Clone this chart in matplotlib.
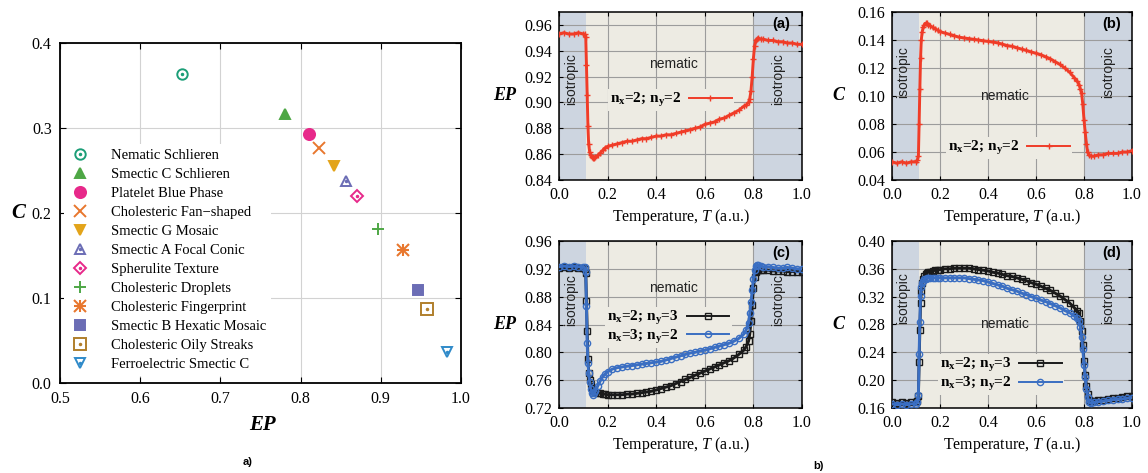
import matplotlib
matplotlib.use("Agg")
import matplotlib.pyplot as plt
from matplotlib.ticker import FormatStrFormatter

plt.rcParams['font.family'] = 'Liberation Serif'
plt.rcParams['mathtext.fontset'] = 'custom'
plt.rcParams['mathtext.rm'] = 'Liberation Serif'
plt.rcParams['mathtext.it'] = 'Liberation Serif:italic'
plt.rcParams['mathtext.bf'] = 'Liberation Serif:bold'

# ---------------- a) texture classification: entropy-complexity plane ----------------
texture_names = [
    "Nematic Schlieren", "Smectic C Schlieren", "Platelet Blue Phase",
    "Cholesteric Fan\u2212shaped", "Smectic G Mosaic", "Smectic A Focal Conic",
    "Spherulite Texture", "Cholesteric Droplets", "Cholesteric Fingerprint",
    "Smectic B Hexatic Mosaic", "Cholesteric Oily Streaks", "Ferroelectric Smectic C",
]
texture_ep = [0.652, 0.780, 0.811, 0.823, 0.842, 0.857, 0.870, 0.896, 0.928, 0.946, 0.957, 0.982]
texture_c = [0.364, 0.316, 0.293, 0.277, 0.255, 0.238, 0.220, 0.181, 0.157, 0.110, 0.087, 0.036]

# ---------------- b) order parameters vs temperature ----------------
temperature = [
    0.00, 0.02, 0.04, 0.06, 0.08, 0.10,
    0.105, 0.110, 0.113, 0.116, 0.119, 0.122, 0.126, 0.130, 0.135, 0.140, 0.145, 0.150,
    0.16, 0.17, 0.18, 0.19, 0.20,
    0.22, 0.24, 0.26, 0.28, 0.30, 0.32, 0.34, 0.36, 0.38, 0.40, 0.42, 0.44, 0.46, 0.48,
    0.50, 0.52, 0.54, 0.56, 0.58, 0.60, 0.62, 0.64, 0.66, 0.68, 0.70, 0.72, 0.74, 0.76,
    0.77, 0.78, 0.785, 0.79, 0.795, 0.80, 0.805, 0.81, 0.815, 0.82,
    0.83, 0.84,
    0.86, 0.88, 0.90, 0.92, 0.94, 0.96, 0.98, 1.00,
]

ep_2x2 = [
    0.953, 0.954, 0.953, 0.953, 0.954, 0.953,
    0.953, 0.951, 0.929, 0.906, 0.882, 0.868, 0.862, 0.859, 0.858, 0.857, 0.857, 0.858,
    0.859, 0.861, 0.863, 0.865, 0.866,
    0.867, 0.868, 0.869, 0.870, 0.870, 0.871, 0.872, 0.872, 0.873, 0.874, 0.874, 0.875, 0.875, 0.876,
    0.877, 0.878, 0.879, 0.880, 0.881, 0.883, 0.884, 0.885, 0.887, 0.888, 0.890, 0.892, 0.894, 0.897,
    0.898, 0.900, 0.903, 0.909, 0.920, 0.934, 0.944, 0.948, 0.949, 0.950,
    0.949, 0.949,
    0.948, 0.948, 0.947, 0.947, 0.946, 0.946, 0.945, 0.945,
]

c_2x2 = [
    0.053, 0.052, 0.053, 0.052, 0.053, 0.053,
    0.054, 0.057, 0.080, 0.105, 0.127, 0.140, 0.146, 0.149, 0.151, 0.152, 0.152, 0.151,
    0.150, 0.149, 0.148, 0.147, 0.146,
    0.145, 0.144, 0.143, 0.142, 0.1415, 0.141, 0.1405, 0.140, 0.1395, 0.139, 0.1385, 0.138, 0.137, 0.136,
    0.1355, 0.1345, 0.1335, 0.1325, 0.1315, 0.1305, 0.1295, 0.128, 0.1265, 0.1245, 0.1225, 0.120, 0.117, 0.113,
    0.111, 0.108, 0.105, 0.102, 0.094, 0.083, 0.074, 0.066, 0.060, 0.058,
    0.057, 0.057,
    0.058, 0.058, 0.059, 0.059, 0.059, 0.060, 0.060, 0.061,
]

ep_2x3 = [
    0.921, 0.922, 0.921, 0.922, 0.921, 0.921,
    0.920, 0.914, 0.874, 0.831, 0.791, 0.771, 0.760, 0.754, 0.749, 0.746, 0.744, 0.743,
    0.742, 0.741, 0.740, 0.740, 0.739,
    0.739, 0.739, 0.739, 0.740, 0.740, 0.741, 0.742, 0.743, 0.744, 0.746, 0.748, 0.750, 0.752, 0.755,
    0.758, 0.761, 0.764, 0.767, 0.770, 0.773, 0.776, 0.779, 0.782, 0.785, 0.788, 0.792, 0.797, 0.803,
    0.808, 0.816, 0.826, 0.845, 0.868, 0.892, 0.908, 0.916, 0.918, 0.918,
    0.918, 0.918,
    0.918, 0.917, 0.917, 0.917, 0.916, 0.916, 0.916, 0.916,
]

ep_3x2 = [
    0.923, 0.924, 0.923, 0.924, 0.923, 0.923,
    0.922, 0.916, 0.866, 0.814, 0.785, 0.770, 0.757, 0.748, 0.742, 0.739, 0.741, 0.745,
    0.752, 0.759, 0.765, 0.769, 0.772,
    0.776, 0.778, 0.779, 0.780, 0.781, 0.782, 0.783, 0.784, 0.785, 0.786, 0.787, 0.789, 0.791, 0.793,
    0.795, 0.797, 0.799, 0.800, 0.802, 0.803, 0.805, 0.807, 0.809, 0.811, 0.813, 0.816, 0.820, 0.826,
    0.832, 0.842, 0.856, 0.872, 0.889, 0.906, 0.918, 0.924, 0.925, 0.925,
    0.924, 0.923,
    0.923, 0.922, 0.921, 0.921, 0.922, 0.921, 0.920, 0.920,
]

c_2x3 = [
    0.168, 0.167, 0.168, 0.167, 0.168, 0.168,
    0.170, 0.177, 0.226, 0.272, 0.311, 0.328, 0.339, 0.346, 0.350, 0.353, 0.354, 0.355,
    0.356, 0.357, 0.358, 0.358, 0.359,
    0.360, 0.360, 0.361, 0.361, 0.361, 0.361, 0.360, 0.359, 0.358, 0.357, 0.355, 0.354, 0.352, 0.350,
    0.349, 0.347, 0.345, 0.343, 0.340, 0.338, 0.335, 0.332, 0.329, 0.325, 0.321, 0.316, 0.311, 0.304,
    0.300, 0.296, 0.285, 0.270, 0.250, 0.228, 0.208, 0.192, 0.180, 0.172,
    0.170, 0.170,
    0.171, 0.172, 0.173, 0.174, 0.175, 0.176, 0.177, 0.177,
]

c_3x2 = [
    0.166, 0.165, 0.166, 0.165, 0.166, 0.166,
    0.168, 0.178, 0.237, 0.284, 0.321, 0.334, 0.340, 0.343, 0.345, 0.346, 0.347, 0.347,
    0.347, 0.347, 0.347, 0.347, 0.347,
    0.347, 0.347, 0.347, 0.347, 0.347, 0.346, 0.345, 0.344, 0.343, 0.341, 0.339, 0.337, 0.335, 0.332,
    0.330, 0.328, 0.325, 0.323, 0.320, 0.318, 0.315, 0.313, 0.310, 0.307, 0.304, 0.300, 0.297, 0.292,
    0.289, 0.285, 0.276, 0.262, 0.245, 0.222, 0.205, 0.188, 0.176, 0.168,
    0.167, 0.168,
    0.169, 0.170, 0.171, 0.172, 0.173, 0.173, 0.174, 0.175,
]

# phase boundaries (isotropic | nematic | isotropic)
T_LOW, T_HIGH = 0.112, 0.803

ISO_COLOR = '#cdd5e0'
NEM_COLOR = '#edebe3'
RED = '#f03c28'
BLUE = '#3a6ec2'
BLACK = '#1a1a1a'

fig = plt.figure(figsize=(11.48, 4.73), dpi=100)
W, H = 1148, 473


def px_axes(left, top, right, bottom):
    return fig.add_axes([left / W, 1 - bottom / H, (right - left) / W, (bottom - top) / H])


# ======================= scatter panel =======================
ax = px_axes(60, 43, 461, 383)
styles = [
    dict(marker='o', color='#1b9e77', filled=False, ms=7.5, dot=True),
    dict(marker='^', color='#4ea745', filled=True, ms=7.5, dot=False),
    dict(marker='o', color='#e7298a', filled=True, ms=8, dot=False),
    dict(marker='x', color='#e8772e', filled=True, ms=8, dot=False),
    dict(marker='v', color='#e3a41a', filled=True, ms=7.5, dot=False),
    dict(marker='^', color='#6b6db5', filled=False, ms=7.5, dot=True),
    dict(marker='D', color='#e7298a', filled=False, ms=6.5, dot=True),
    dict(marker='+', color='#4ea745', filled=True, ms=9, dot=False),
    dict(marker='*', color='#e8772e', filled=True, ms=9.5, dot=False),
    dict(marker='s', color='#6b6db5', filled=True, ms=7.5, dot=False),
    dict(marker='s', color='#b07f2c', filled=False, ms=8.5, dot=True),
    dict(marker='v', color='#2f8ac9', filled=False, ms=7.5, dot=True),
]

handles = []
for name, ep, c, st in zip(texture_names, texture_ep, texture_c, styles):
    parts = []
    if st['marker'] == '*':
        for m in ('+', 'x'):
            h, = ax.plot([ep], [c], linestyle='none', marker=m, ms=st['ms'] * 0.85,
                         mec=st['color'], mew=1.5, zorder=5)
            parts.append(h)
    else:
        h, = ax.plot([ep], [c], linestyle='none', marker=st['marker'], ms=st['ms'],
                     mfc=st['color'] if st['filled'] else 'none', mec=st['color'],
                     mew=1.4, zorder=5)
        parts.append(h)
    if st['dot']:
        h, = ax.plot([ep], [c], linestyle='none', marker='o', ms=1.5,
                     mfc=st['color'], mec=st['color'], zorder=6)
        parts.append(h)
    handles.append(tuple(parts) if len(parts) > 1 else parts[0])

ax.set_xlim(0.5, 1.0)
ax.set_ylim(0.0, 0.4)
ax.set_xticks([0.5, 0.6, 0.7, 0.8, 0.9, 1.0])
ax.set_yticks([0.0, 0.1, 0.2, 0.3, 0.4])
ax.xaxis.set_major_formatter(FormatStrFormatter('%.1f'))
ax.yaxis.set_major_formatter(FormatStrFormatter('%.1f'))
ax.tick_params(direction='in', top=True, right=True, length=4, labelsize=11.5, pad=6)
ax.grid(True, color='#d2d2d2', lw=0.8)
ax.set_axisbelow(True)
for sp in ax.spines.values():
    sp.set_linewidth(1.3)
leg = ax.legend(handles, texture_names, loc='upper left', bbox_to_anchor=(0.0, 0.715),
                frameon=True, facecolor='white', edgecolor='none', framealpha=1.0,
                fontsize=10.5, handlelength=1.6, handletextpad=1.3, labelspacing=0.4,
                borderpad=0.3, borderaxespad=0.3, fancybox=False)
leg.set_zorder(4)
ax.text(-0.105, 0.5, 'C', transform=ax.transAxes, fontsize=15, fontweight='bold',
        style='italic', ha='center', va='center')
ax.text(0.504, -0.124, 'EP', transform=ax.transAxes, fontsize=15, fontweight='bold',
        style='italic', ha='center', va='center')
fig.text(248 / W, 1 - 462 / H, 'a)', fontsize=8, fontweight='bold',
         family='Liberation Sans', ha='center', va='center')
fig.text(818 / W, 1 - 466 / H, 'b)', fontsize=8, fontweight='bold',
         family='Liberation Sans', ha='center', va='center')


# ======================= temperature panels =======================
def temp_panel(box, ylim, ystep, ylabel, tag, series, iso_y, nem_y, leg_anchor):
    a = px_axes(*box)
    a.axvspan(0.0, T_LOW, color=ISO_COLOR, zorder=0, lw=0)
    a.axvspan(T_LOW, T_HIGH, color=NEM_COLOR, zorder=0, lw=0)
    a.axvspan(T_HIGH, 1.0, color=ISO_COLOR, zorder=0, lw=0)
    a.set_xlim(0, 1)
    a.set_ylim(*ylim)
    a.set_xticks([0.0, 0.2, 0.4, 0.6, 0.8, 1.0])
    nstep = int(round((ylim[1] - ylim[0]) / ystep))
    yt = [ylim[0] + i * ystep for i in range(nstep + 1)]
    a.set_yticks(yt)
    a.xaxis.set_major_formatter(FormatStrFormatter('%.1f'))
    a.yaxis.set_major_formatter(FormatStrFormatter('%.2f'))
    a.tick_params(direction='in', top=True, right=True, length=3, labelsize=11.5, pad=5)
    a.grid(True, color='#9c9c9c', lw=0.8, zorder=1)
    a.set_axisbelow(True)
    for sp in a.spines.values():
        sp.set_linewidth(1.1)
    hs = []
    for values, label, color, marker, ms in series:
        h, = a.plot(temperature, values, color=color, lw=2.1, marker=marker, ms=ms,
                    mfc='none', mec=color, mew=1.0, label=label, zorder=3)
        hs.append(h)
    a.set_xlabel(r'Temperature, $\mathit{T}$ (a.u.)', fontsize=11.5, labelpad=3)
    a.text(-0.222, 0.5, ylabel, transform=a.transAxes, fontsize=13, fontweight='bold',
           style='italic', ha='center', va='center')
    a.text(0.048, iso_y, 'isotropic', rotation=90, family='Liberation Sans', fontsize=10,
           ha='center', va='center', color='#222222')
    a.text(0.9, iso_y, 'isotropic', rotation=90, family='Liberation Sans', fontsize=10,
           ha='center', va='center', color='#222222')
    a.text(0.47, nem_y, 'nematic', family='Liberation Sans', fontsize=10,
           ha='center', va='center', color='#222222')
    a.text(0.915, 0.93, tag, transform=a.transAxes, family='Liberation Sans', fontsize=10.5,
           fontweight='bold', ha='center', va='center')
    lg = a.legend(handles=hs, loc='center left', bbox_to_anchor=leg_anchor, frameon=True,
                  facecolor=NEM_COLOR, edgecolor='none', framealpha=1.0, fancybox=False,
                  prop={'size': 11, 'weight': 'bold', 'family': 'Liberation Serif'},
                  handlelength=2.8, handletextpad=0.5, labelspacing=0.05,
                  borderpad=0.15, borderaxespad=0.0, numpoints=1, markerfirst=False)
    for ln in lg.get_lines():
        ln.set_linewidth(1.4)
    lg.set_zorder(2)
    return a


lab_22 = r'n$_\mathbf{x}$=2; n$_\mathbf{y}$=2'
lab_23 = r'n$_\mathbf{x}$=2; n$_\mathbf{y}$=3'
lab_32 = r'n$_\mathbf{x}$=3; n$_\mathbf{y}$=2'

temp_panel((559, 12, 802, 180), (0.84, 0.97), 0.02, 'EP', '(a)',
           [(ep_2x2, lab_22, RED, '+', 5)], 0.918, 0.93, (0.2, 0.476))
temp_panel((892, 12, 1132, 180), (0.04, 0.16), 0.02, 'C', '(b)',
           [(c_2x2, lab_22, RED, '+', 5)], 0.117, 0.10, (0.225, 0.19))
temp_panel((559, 241, 802, 408), (0.72, 0.96), 0.04, 'EP', '(c)',
           [(ep_2x3, lab_23, BLACK, 's', 4.5), (ep_3x2, lab_32, BLUE, 'o', 4.5)],
           0.875, 0.892, (0.19, 0.482))
temp_panel((892, 241, 1132, 408), (0.16, 0.40), 0.04, 'C', '(d)',
           [(c_2x3, lab_23, BLACK, 's', 4.5), (c_3x2, lab_32, BLUE, 'o', 4.5)],
           0.318, 0.28, (0.19, 0.2))

fig.savefig('out.png', dpi=100, facecolor='white')
